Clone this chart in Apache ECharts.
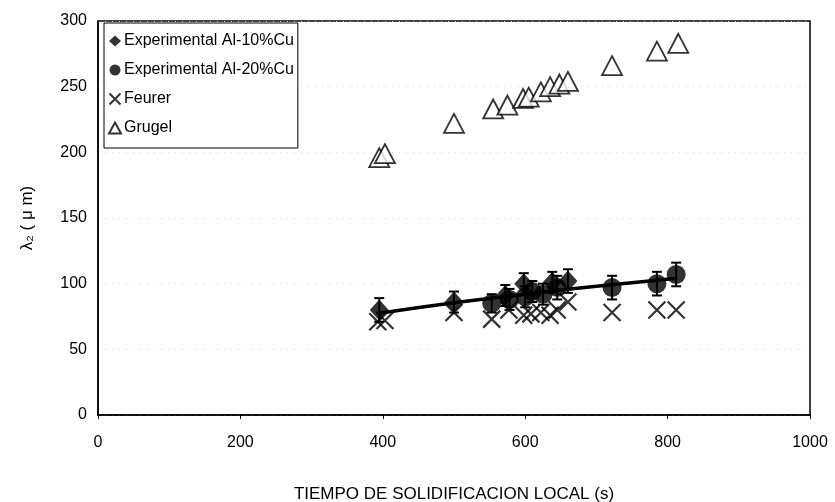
<!DOCTYPE html>
<html>
<head>
<meta charset="utf-8">
<script src="https://cdn.jsdelivr.net/npm/echarts@6/dist/echarts.min.js"></script>
<style>html,body{margin:0;padding:0;background:#fff}#c{width:835px;height:502px}</style>
</head>
<body>
<div id="c"></div>
<script>
// Experimental Al-10%Cu
const al10X = [395, 500, 572, 598, 638, 660];
const al10Y = [80, 86, 91, 100, 101, 102];
const al10Err = [9, 8, 8, 8, 8, 9];
// Experimental Al-20%Cu
const al20X = [553, 578, 600, 610, 625, 645, 722, 785, 812];
const al20Y = [85, 88, 90, 94, 92, 97, 97, 100, 107];
const al20Err = [7, 8, 8, 8, 8, 9, 9, 9, 9];
// Feurer
const feurerX = [393, 403, 500, 553, 577, 598, 608, 622, 635, 645, 660, 722, 785, 812];
const feurerY = [71, 72, 78, 73, 80, 76, 77, 78, 76, 80, 86, 78, 80, 80];
// Grugel
const grugelX = [395, 403, 500, 555, 575, 597, 605, 622, 635, 648, 660, 722, 785, 815];
const grugelY = [196, 199, 222, 233, 236, 241, 242, 246, 250, 252, 254, 266, 277, 283];
// fitted trend line
const fitX = [395, 500, 600, 700, 810];
const fitY = [77.5, 85.5, 92, 98, 104];

const names = ['Experimental Al-10%Cu', 'Experimental Al-20%Cu', 'Feurer', 'Grugel'];
const xTitle = 'TIEMPO DE SOLIDIFICACION LOCAL (s)';
const yTitle = 'λ₂ ( μ m)';

const zip = (xs, ys) => xs.map((x, i) => [x, ys[i]]);
const errData = (xs, ys, es) => xs.map((x, i) => [x, ys[i] - es[i], ys[i] + es[i]]);

function errRender(params, api) {
  const x = api.value(0);
  const lo = api.coord([x, api.value(1)]);
  const hi = api.coord([x, api.value(2)]);
  const w = 5;
  const st = { stroke: '#000', lineWidth: 2 };
  return {
    type: 'group',
    children: [
      { type: 'line', shape: { x1: lo[0], y1: lo[1], x2: hi[0], y2: hi[1] }, style: st },
      { type: 'line', shape: { x1: lo[0] - w, y1: lo[1], x2: lo[0] + w, y2: lo[1] }, style: st },
      { type: 'line', shape: { x1: hi[0] - w, y1: hi[1], x2: hi[0] + w, y2: hi[1] }, style: st }
    ]
  };
}

const xPath = 'path://M0,0 L10,10 M10,0 L0,10';
const font = 'Liberation Sans, Arial, sans-serif';

const chart = echarts.init(document.getElementById('c'), null, { renderer: 'canvas' });
chart.setOption({
  animation: false,
  backgroundColor: '#fff',
  textStyle: { fontFamily: font, color: '#000' },
  grid: { left: 98, right: 25, top: 21, bottom: 87, show: true, borderColor: '#000', borderWidth: 1.5,
          containLabel: false, outerBoundsMode: 'none' },
  legend: {
    orient: 'vertical',
    left: 104, top: 23,
    data: names,
    itemWidth: 12, itemHeight: 11, itemGap: 13,
    padding: [10, 4, 12, 4],
    borderColor: '#000', borderWidth: 1,
    backgroundColor: '#fff',
    textStyle: { fontFamily: font, fontSize: 16, color: '#000', padding: [0, 0, 0, -2] }
  },
  xAxis: {
    type: 'value', min: 0, max: 1000, interval: 200,
    name: xTitle, nameLocation: 'middle', nameGap: 71,
    nameTextStyle: { fontFamily: font, fontSize: 17, color: '#000' },
    axisLine: { show: true, lineStyle: { color: '#000', width: 1.5 } },
    axisTick: { show: true, length: 4, lineStyle: { color: '#000' } },
    axisLabel: { fontFamily: font, fontSize: 16, color: '#000', margin: 20, formatter: v => String(v) },
    splitLine: { show: false }
  },
  yAxis: {
    type: 'value', min: 0, max: 300, interval: 50,
    name: yTitle, nameLocation: 'middle', nameGap: 62, nameRotate: 90,
    nameTextStyle: { fontFamily: font, fontSize: 17, color: '#000' },
    axisLine: { show: true, lineStyle: { color: '#000', width: 1.5 } },
    axisTick: { show: false },
    axisLabel: { fontFamily: font, fontSize: 16, color: '#000', margin: 11 },
    splitLine: { show: true, lineStyle: { color: '#d4d4d4', type: [1, 6], width: 1 } }
  },
  series: [
    {
      name: 'fit', type: 'line', data: zip(fitX, fitY), smooth: true,
      showSymbol: false, symbol: 'none', lineStyle: { color: '#000', width: 3.5 }, z: 2, silent: true
    },
    {
      name: 'err10', type: 'custom', renderItem: errRender, data: errData(al10X, al10Y, al10Err), z: 3, silent: true
    },
    {
      name: 'err20', type: 'custom', renderItem: errRender, data: errData(al20X, al20Y, al20Err), z: 3, silent: true
    },
    {
      name: names[2], type: 'scatter', data: zip(feurerX, feurerY), symbol: xPath, symbolSize: 17,
      itemStyle: { color: 'rgba(0,0,0,0)', borderColor: '#000', borderWidth: 2.2 }, z: 4
    },
    {
      name: names[0], type: 'scatter', data: zip(al10X, al10Y), symbol: 'diamond', symbolSize: [19, 21],
      itemStyle: { color: '#000' }, z: 5
    },
    {
      name: names[1], type: 'scatter', data: zip(al20X, al20Y), symbol: 'circle', symbolSize: 19,
      itemStyle: { color: '#000' }, z: 5
    },
    {
      name: names[3], type: 'scatter', data: zip(grugelX, grugelY), symbol: 'triangle', symbolSize: [20, 19],
      itemStyle: { color: '#fff', borderColor: '#000', borderWidth: 1.8 }, z: 4
    }
  ]
});
</script>
</body>
</html>
